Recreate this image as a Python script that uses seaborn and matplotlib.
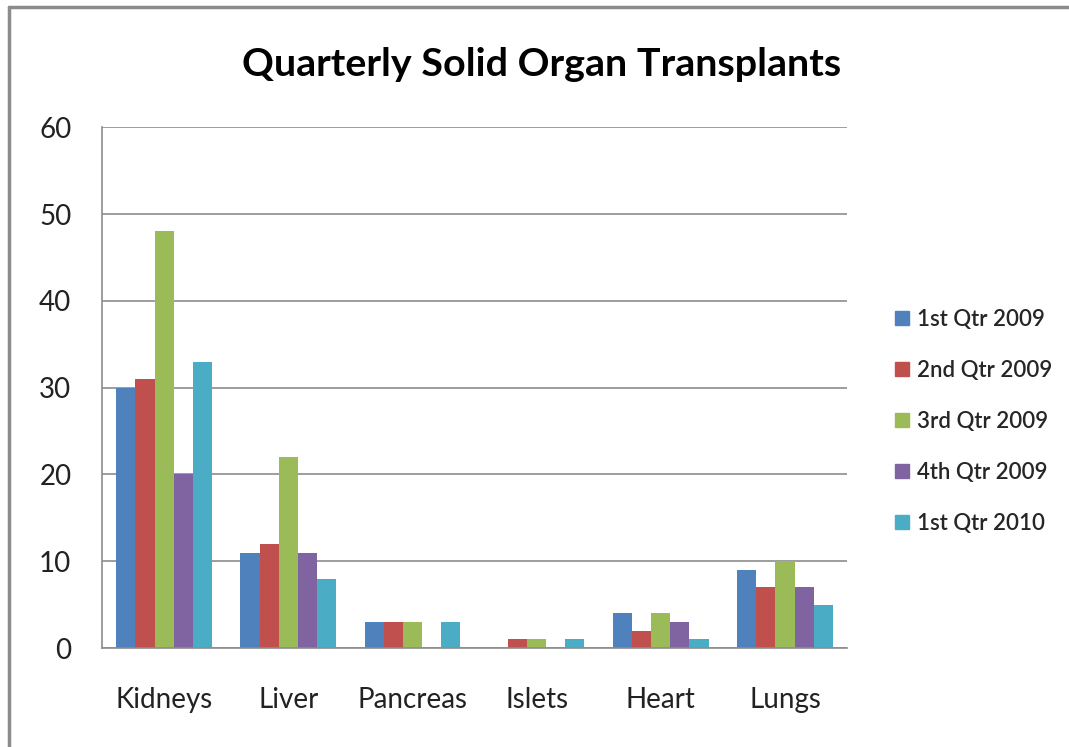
import pandas as pd
import matplotlib
matplotlib.use("Agg")
import matplotlib.pyplot as plt
import seaborn as sns
from matplotlib.lines import Line2D

# chart data
organs = ["Kidneys", "Liver", "Pancreas", "Islets", "Heart", "Lungs"]
quarters = ["1st Qtr 2009", "2nd Qtr 2009", "3rd Qtr 2009", "4th Qtr 2009", "1st Qtr 2010"]
q1_2009 = [30, 11, 3, 0, 4, 9]
q2_2009 = [31, 12, 3, 1, 2, 7]
q3_2009 = [48, 22, 3, 1, 4, 10]
q4_2009 = [20, 11, 0, 0, 3, 7]
q1_2010 = [33, 8, 3, 1, 1, 5]
colors = ["#4F81BD", "#C0504D", "#9BBB59", "#8064A2", "#4BACC6"]

# long format for seaborn
rows = []
for q, vals in zip(quarters, [q1_2009, q2_2009, q3_2009, q4_2009, q1_2010]):
    for organ, v in zip(organs, vals):
        rows.append({"organ": organ, "quarter": q, "count": v})
df = pd.DataFrame(rows)

sns.set_theme(style="white")
plt.rcParams["font.family"] = ["Lato", "DejaVu Sans"]

fig = plt.figure(figsize=(10.69, 7.47), dpi=100)
ax = fig.add_axes([0.0954, 0.1325, 0.697, 0.697])

sns.barplot(data=df, x="organ", y="count", hue="quarter", order=organs,
            hue_order=quarters, palette=colors, width=0.77, gap=0,
            saturation=1, linewidth=0, ax=ax, legend=False)

ax.set_ylim(0, 60)
ax.set_yticks(range(0, 61, 10))
ax.set_xlim(-0.5, len(organs) - 0.5)
ax.yaxis.grid(True, color="#8c8c8c", linewidth=1.2)
ax.set_axisbelow(True)
ax.set_xlabel("")
ax.set_ylabel("")
for side in ["top", "right"]:
    ax.spines[side].set_visible(False)
for side in ["left", "bottom"]:
    ax.spines[side].set_color("#8c8c8c")
    ax.spines[side].set_linewidth(1.2)
ax.tick_params(axis="y", labelsize=20, pad=22, length=0, colors="#222222")
ax.tick_params(axis="x", labelsize=20, pad=28, length=0, colors="#222222")

fig.text(0.507, 0.914, "Quarterly Solid Organ Transplants", ha="center",
         va="center", fontsize=28.4, fontweight="bold", color="black")

handles = [Line2D([0], [0], marker="s", linestyle="", markersize=10,
                  markerfacecolor=c, markeredgecolor=c) for c in colors]
fig.legend(handles, quarters, loc="center left", bbox_to_anchor=(0.817, 0.436),
           frameon=False, fontsize=16, handlelength=0.8, handletextpad=0.25,
           labelspacing=1.35, prop={"size": 16, "weight": "semibold"})

# outer chart frame (left and top edges visible)
fig.add_artist(Line2D([0.008, 0.008], [0.0, 0.991], transform=fig.transFigure,
                      color="#8c8c8c", linewidth=2.5))
fig.add_artist(Line2D([0.008, 1.0], [0.991, 0.991], transform=fig.transFigure,
                      color="#8c8c8c", linewidth=2.5))

fig.savefig("out.png", dpi=100)
